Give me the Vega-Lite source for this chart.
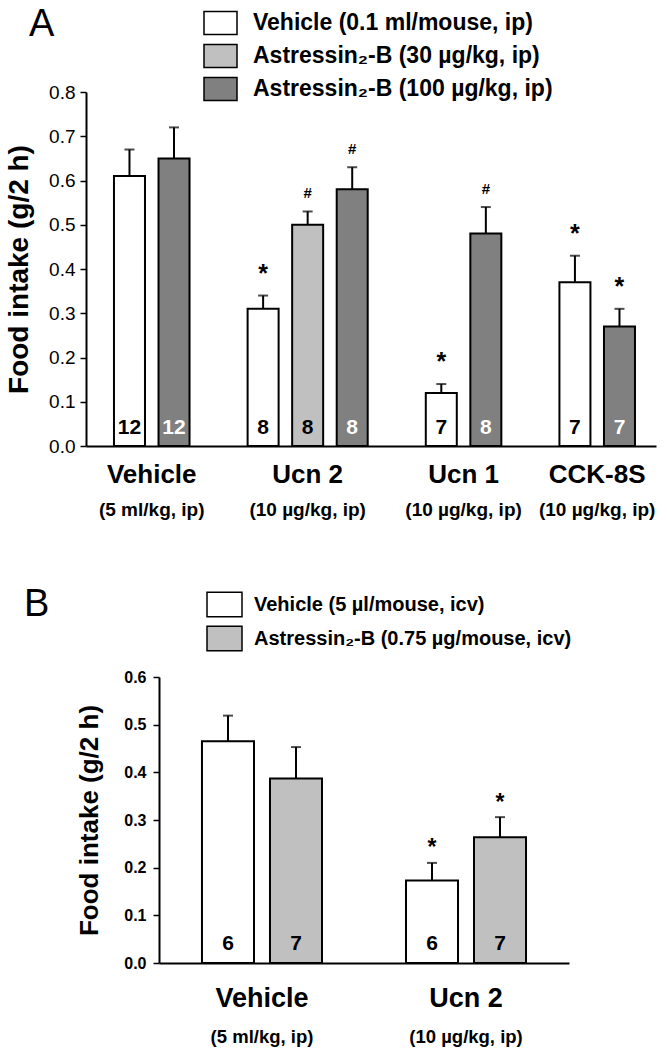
{
  "$schema": "https://vega.github.io/schema/vega-lite/v6.json",
  "background": "white",
  "padding": {"left": 5, "top": 5, "right": 2, "bottom": 2},
  "config": {
    "view": {"stroke": null},
    "font": "Liberation Sans",
    "axis": {"grid": false, "domainColor": "black", "tickColor": "black", "labelColor": "black", "titleColor": "black"},
    "text": {"font": "Liberation Sans", "color": "black"}
  },
  "resolve": {"scale": {"fill": "independent", "color": "independent"}, "legend": {"fill": "independent", "color": "independent"}},
  "datasets": {
    "a": [
      {"group": "Vehicle", "dose": "(5 ml/kg, ip)", "bar": "V-veh", "treatment": "Vehicle (0.1 ml/mouse, ip)", "mean": 0.61, "upper": 0.67, "n": "12", "sig": ""},
      {"group": "Vehicle", "dose": "(5 ml/kg, ip)", "bar": "V-a100", "treatment": "Astressin₂-B (100 µg/kg, ip)", "mean": 0.65, "upper": 0.72, "n": "12", "sig": ""},
      {"group": "Ucn 2", "dose": "(10 µg/kg, ip)", "bar": "U2-veh", "treatment": "Vehicle (0.1 ml/mouse, ip)", "mean": 0.31, "upper": 0.34, "n": "8", "sig": "*"},
      {"group": "Ucn 2", "dose": "(10 µg/kg, ip)", "bar": "U2-a30", "treatment": "Astressin₂-B (30 µg/kg, ip)", "mean": 0.50, "upper": 0.53, "n": "8", "sig": "#"},
      {"group": "Ucn 2", "dose": "(10 µg/kg, ip)", "bar": "U2-a100", "treatment": "Astressin₂-B (100 µg/kg, ip)", "mean": 0.58, "upper": 0.63, "n": "8", "sig": "#"},
      {"group": "Ucn 1", "dose": "(10 µg/kg, ip)", "bar": "U1-veh", "treatment": "Vehicle (0.1 ml/mouse, ip)", "mean": 0.12, "upper": 0.14, "n": "7", "sig": "*"},
      {"group": "Ucn 1", "dose": "(10 µg/kg, ip)", "bar": "U1-a100", "treatment": "Astressin₂-B (100 µg/kg, ip)", "mean": 0.48, "upper": 0.54, "n": "8", "sig": "#"},
      {"group": "CCK-8S", "dose": "(10 µg/kg, ip)", "bar": "C-veh", "treatment": "Vehicle (0.1 ml/mouse, ip)", "mean": 0.37, "upper": 0.43, "n": "7", "sig": "*"},
      {"group": "CCK-8S", "dose": "(10 µg/kg, ip)", "bar": "C-a100", "treatment": "Astressin₂-B (100 µg/kg, ip)", "mean": 0.27, "upper": 0.31, "n": "7", "sig": "*"}
    ],
    "b": [
      {"group": "Vehicle", "dose": "(5 ml/kg, ip)", "bar": "V-veh", "treatment": "Vehicle (5 µl/mouse, icv)", "mean": 0.465, "upper": 0.519, "n": "6", "sig": ""},
      {"group": "Vehicle", "dose": "(5 ml/kg, ip)", "bar": "V-ast", "treatment": "Astressin₂-B (0.75 µg/mouse, icv)", "mean": 0.387, "upper": 0.453, "n": "7", "sig": ""},
      {"group": "Ucn 2", "dose": "(10 µg/kg, ip)", "bar": "U2-veh", "treatment": "Vehicle (5 µl/mouse, icv)", "mean": 0.173, "upper": 0.21, "n": "6", "sig": "*"},
      {"group": "Ucn 2", "dose": "(10 µg/kg, ip)", "bar": "U2-ast", "treatment": "Astressin₂-B (0.75 µg/mouse, icv)", "mean": 0.264, "upper": 0.306, "n": "7", "sig": "*"}
    ]
  },
  "bounds": "flush",
  "spacing": 231,
  "vconcat": [
    {
      "width": 570,
      "height": 354,
      "data": {"name": "a"},
      "encoding": {
        "x": {
          "field": "bar", "type": "nominal", "title": null,
          "scale": {"domain": ["V-veh", "V-a100", "gap1", "U2-veh", "U2-a30", "U2-a100", "gap2", "U1-veh", "U1-a100", "gap3", "C-veh", "C-a100"], "paddingInner": 0.304, "paddingOuter": 0.55, "align": 0.571},
          "axis": {"labels": false, "ticks": false, "domainWidth": 2, "domainColor": "black"}
        }
      },
      "layer": [
        {
          "mark": {"type": "bar", "stroke": "black", "strokeWidth": 2},
          "encoding": {
            "y": {
              "field": "mean", "type": "quantitative", "title": "Food intake (g/2 h)",
              "scale": {"domain": [0, 0.8]},
              "axis": {"values": [0, 0.1, 0.2, 0.3, 0.4, 0.5, 0.6, 0.7, 0.8], "format": ".1f", "labelFontSize": 19, "labelFontWeight": "normal", "labelPadding": 5, "labelFlush": false, "tickSize": 6, "tickWidth": 1.5, "domainWidth": 2, "titleFontSize": 28, "titleFontWeight": "bold", "titlePadding": 15}
            },
            "fill": {
              "field": "treatment", "type": "nominal",
              "scale": {"domain": ["Vehicle (0.1 ml/mouse, ip)", "Astressin₂-B (30 µg/kg, ip)", "Astressin₂-B (100 µg/kg, ip)"], "range": ["#ffffff", "#c0c0c0", "#808080"]},
              "legend": {"title": "A", "titleOrient": "left", "titleAnchor": "start", "titleBaseline": "top", "titleFontSize": 38, "titleFontWeight": "normal", "titleFont": "Liberation Sans", "titleColor": "black", "titlePadding": 148, "orient": "none", "legendX": -57, "legendY": -86.5, "padding": 0, "symbolType": "M-1,-0.7H1V0.7H-1Z", "symbolSize": 1089, "symbolStrokeColor": "black", "symbolStrokeWidth": 1.5, "symbolOpacity": 1, "labelFontSize": 23, "labelFontWeight": "bold", "labelFont": "Liberation Sans", "labelColor": "black", "labelOffset": 15, "labelLimit": 500, "rowPadding": 0}
            }
          }
        },
        {
          "mark": {"type": "rule", "strokeWidth": 2, "color": "black"},
          "encoding": {
            "y": {"field": "mean", "type": "quantitative", "title": "Food intake (g/2 h)"},
            "y2": {"field": "upper"}
          }
        },
        {
          "mark": {"type": "tick", "orient": "horizontal", "size": 10, "thickness": 2, "color": "black"},
          "encoding": {
            "y": {"field": "upper", "type": "quantitative", "title": "Food intake (g/2 h)"}
          }
        },
        {
          "transform": [{"filter": "datum.sig === '*'"}],
          "mark": {"type": "text", "fontSize": 25, "fontWeight": "bold", "baseline": "alphabetic", "dy": -14},
          "encoding": {
            "y": {"field": "upper", "type": "quantitative", "title": "Food intake (g/2 h)"},
            "text": {"field": "sig"}
          }
        },
        {
          "transform": [{"filter": "datum.sig === '#'"}],
          "mark": {"type": "text", "fontSize": 15, "fontWeight": "bold", "baseline": "alphabetic", "dy": -13},
          "encoding": {
            "y": {"field": "upper", "type": "quantitative", "title": "Food intake (g/2 h)"},
            "text": {"field": "sig"}
          }
        },
        {
          "mark": {"type": "text", "fontSize": 21, "fontWeight": "bold", "baseline": "alphabetic", "dy": -12},
          "encoding": {
            "y": {"datum": 0, "type": "quantitative", "title": "Food intake (g/2 h)"},
            "text": {"field": "n"},
            "color": {
              "field": "treatment", "type": "nominal",
              "scale": {"domain": ["Vehicle (0.1 ml/mouse, ip)", "Astressin₂-B (30 µg/kg, ip)", "Astressin₂-B (100 µg/kg, ip)"], "range": ["#000000", "#000000", "#ffffff"]},
              "legend": null
            }
          }
        },
        {
          "transform": [{"filter": "indexof(['V-veh', 'U1-veh', 'C-veh'], datum.bar) >= 0"}],
          "mark": {"type": "text", "fontSize": 26, "fontWeight": "bold", "baseline": "middle", "dx": 6.75, "dy": 29},
          "encoding": {
            "x": {"field": "bar", "type": "nominal", "bandPosition": 1, "title": null},
            "y": {"datum": 0, "type": "quantitative", "title": "Food intake (g/2 h)"},
            "text": {"field": "group"}
          }
        },
        {
          "transform": [{"filter": "indexof(['V-veh', 'U1-veh', 'C-veh'], datum.bar) >= 0"}],
          "mark": {"type": "text", "fontSize": 19, "fontWeight": "bold", "baseline": "middle", "dx": 6.75, "dy": 64},
          "encoding": {
            "x": {"field": "bar", "type": "nominal", "bandPosition": 1, "title": null},
            "y": {"datum": 0, "type": "quantitative", "title": "Food intake (g/2 h)"},
            "text": {"field": "dose"}
          }
        },
        {
          "transform": [{"filter": "datum.bar === 'U2-a30'"}],
          "mark": {"type": "text", "fontSize": 26, "fontWeight": "bold", "baseline": "middle", "dy": 29},
          "encoding": {
            "y": {"datum": 0, "type": "quantitative", "title": "Food intake (g/2 h)"},
            "text": {"field": "group"}
          }
        },
        {
          "transform": [{"filter": "datum.bar === 'U2-a30'"}],
          "mark": {"type": "text", "fontSize": 19, "fontWeight": "bold", "baseline": "middle", "dy": 64},
          "encoding": {
            "y": {"datum": 0, "type": "quantitative", "title": "Food intake (g/2 h)"},
            "text": {"field": "dose"}
          }
        }
      ]
    },
    {
      "bounds": "flush",
      "spacing": 0,
      "hconcat": [
        {
          "width": 73,
          "height": 286,
          "data": {"values": [{"k": 1}]},
          "mark": {"type": "point", "opacity": 0},
          "encoding": {}
        },
        {
          "width": 410,
          "height": 286,
          "data": {"name": "b"},
          "encoding": {
            "x": {
              "field": "bar", "type": "nominal", "title": null,
              "scale": {"domain": ["V-veh", "V-ast", "gap", "U2-veh", "U2-ast"], "paddingInner": 0.235, "paddingOuter": 0.632, "align": 0.5},
              "axis": {"labels": false, "ticks": false, "domainWidth": 2, "domainColor": "black"}
            }
          },
          "layer": [
            {
              "mark": {"type": "bar", "stroke": "black", "strokeWidth": 2},
              "encoding": {
                "y": {
                  "field": "mean", "type": "quantitative", "title": "Food intake (g/2 h)",
                  "scale": {"domain": [0, 0.6]},
                  "axis": {"values": [0, 0.1, 0.2, 0.3, 0.4, 0.5, 0.6], "format": ".1f", "labelFontSize": 16, "labelFontWeight": "bold", "labelPadding": 7, "labelFlush": false, "tickSize": 6, "tickWidth": 1.5, "domainWidth": 2, "titleFontSize": 26, "titleFontWeight": "bold", "titlePadding": 21}
                },
                "fill": {
                  "field": "treatment", "type": "nominal",
                  "scale": {"domain": ["Vehicle (5 µl/mouse, icv)", "Astressin₂-B (0.75 µg/mouse, icv)"], "range": ["#ffffff", "#c0c0c0"]},
                  "legend": {"title": "B", "titleOrient": "left", "titleAnchor": "start", "titleBaseline": "top", "titleFontSize": 38, "titleFontWeight": "normal", "titleFont": "Liberation Sans", "titleColor": "black", "titlePadding": 156, "orient": "none", "legendX": -62, "legendY": -91, "padding": 0, "symbolType": "M-1,-0.7H1V0.7H-1Z", "symbolSize": 1225, "symbolStrokeColor": "black", "symbolStrokeWidth": 1.5, "symbolOpacity": 1, "labelFontSize": 20, "labelFontWeight": "bold", "labelFont": "Liberation Sans", "labelColor": "black", "labelOffset": 11, "labelLimit": 500, "rowPadding": 0}
                }
              }
            },
            {
              "mark": {"type": "rule", "strokeWidth": 2, "color": "black"},
              "encoding": {
                "y": {"field": "mean", "type": "quantitative", "title": "Food intake (g/2 h)"},
                "y2": {"field": "upper"}
              }
            },
            {
              "mark": {"type": "tick", "orient": "horizontal", "size": 10, "thickness": 2, "color": "black"},
              "encoding": {
                "y": {"field": "upper", "type": "quantitative", "title": "Food intake (g/2 h)"}
              }
            },
            {
              "transform": [{"filter": "datum.sig === '*'"}],
              "mark": {"type": "text", "fontSize": 23, "fontWeight": "bold", "baseline": "alphabetic", "dy": -7.5},
              "encoding": {
                "y": {"field": "upper", "type": "quantitative", "title": "Food intake (g/2 h)"},
                "text": {"field": "sig"}
              }
            },
            {
              "mark": {"type": "text", "fontSize": 21, "fontWeight": "bold", "baseline": "alphabetic", "dy": -13},
              "encoding": {
                "y": {"datum": 0, "type": "quantitative", "title": "Food intake (g/2 h)"},
                "text": {"field": "n"}
              }
            },
            {
              "transform": [{"filter": "datum.bar === 'V-veh' || datum.bar === 'U2-veh'"}],
              "mark": {"type": "text", "fontSize": 27, "fontWeight": "bold", "baseline": "middle", "dx": 8, "dy": 36},
              "encoding": {
                "x": {"field": "bar", "type": "nominal", "bandPosition": 1, "title": null},
                "y": {"datum": 0, "type": "quantitative", "title": "Food intake (g/2 h)"},
                "text": {"field": "group"}
              }
            },
            {
              "transform": [{"filter": "datum.bar === 'V-veh' || datum.bar === 'U2-veh'"}],
              "mark": {"type": "text", "fontSize": 18.5, "fontWeight": "bold", "baseline": "middle", "dx": 8, "dy": 74},
              "encoding": {
                "x": {"field": "bar", "type": "nominal", "bandPosition": 1, "title": null},
                "y": {"datum": 0, "type": "quantitative", "title": "Food intake (g/2 h)"},
                "text": {"field": "dose"}
              }
            }
          ]
        }
      ]
    }
  ]
}
